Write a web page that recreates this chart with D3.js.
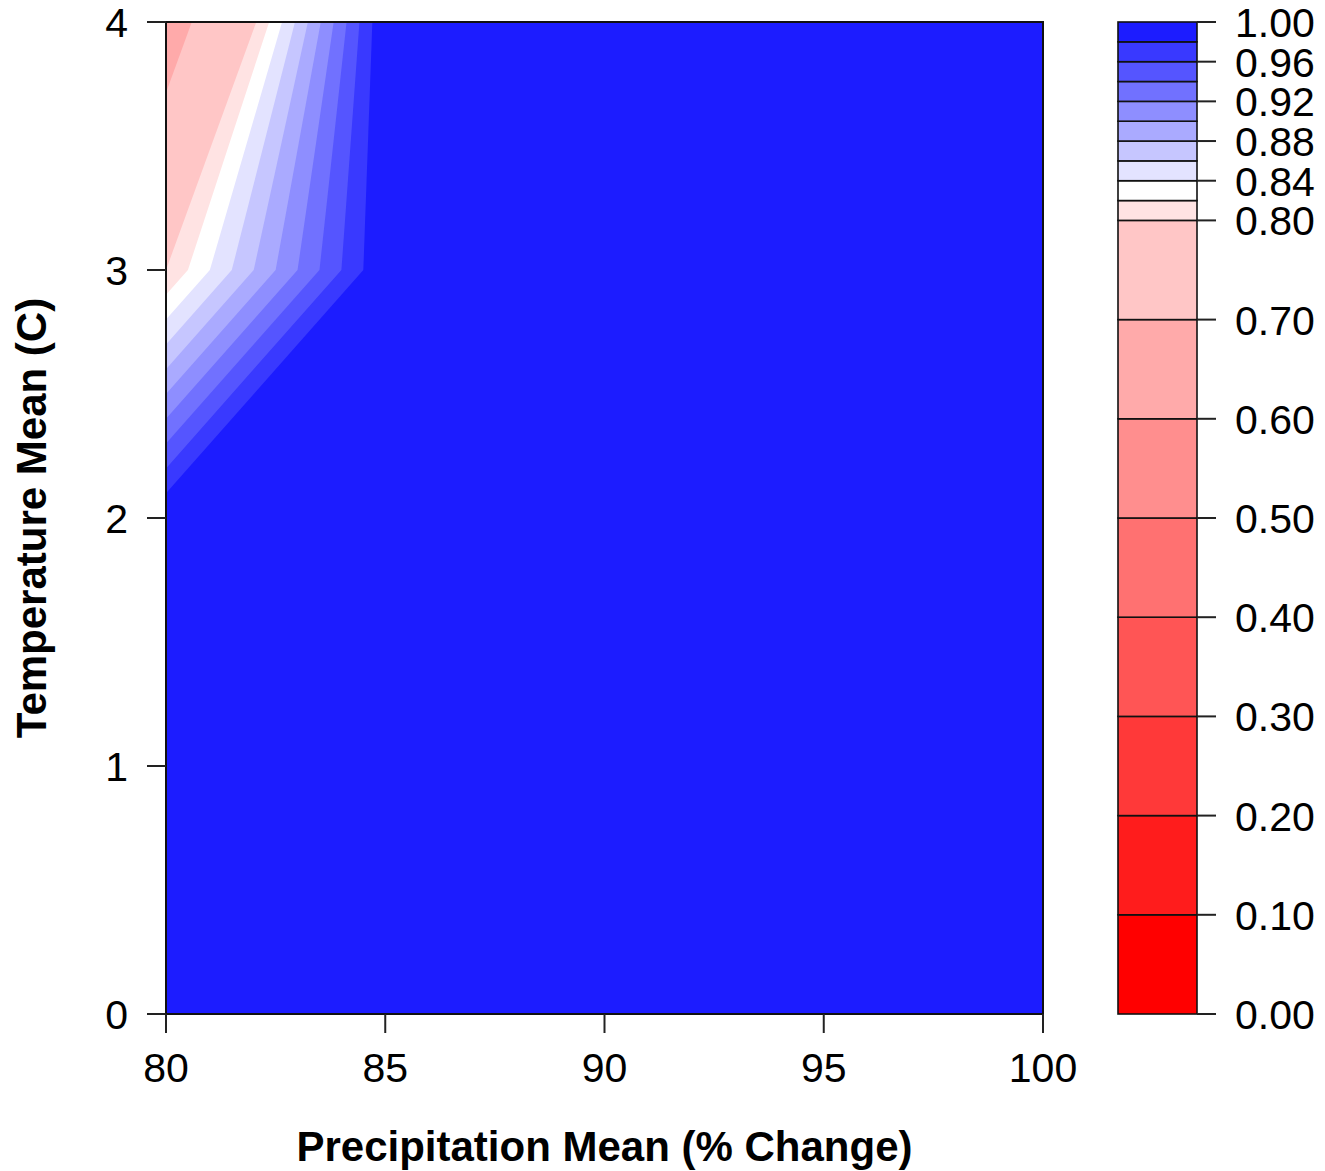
<!DOCTYPE html>
<meta charset="utf-8">
<script src="https://cdn.jsdelivr.net/npm/d3@7"></script>
<style>
  body { margin: 0; background: #fff; }
  text { font-family: "Liberation Sans", Arial, sans-serif; fill: #000; }
</style>
<div id="chart"></div>
<script>
// grid the surface was computed on
var precipitation = [80, 85, 90, 95, 100];
var temperature = [0, 1, 2, 3, 4];
// one row per temperature, one column per precipitation value
var zValues = [
  [1.00, 1, 1, 1, 1],
  [1.00, 1, 1, 1, 1],
  [1.00, 1, 1, 1, 1],
  [0.80, 1, 1, 1, 1],
  [0.66, 1, 1, 1, 1]
];
// filled contour levels
var levels = [0, 0.1, 0.2, 0.3, 0.4, 0.5, 0.6, 0.7, 0.8,
              0.82, 0.84, 0.86, 0.88, 0.9, 0.92, 0.94, 0.96, 0.98, 1.0];
var xTicks = [80, 85, 90, 95, 100];
var yTicks = [0, 1, 2, 3, 4];
var barTicks = [0, 0.1, 0.2, 0.3, 0.4, 0.5, 0.6, 0.7, 0.8, 0.84, 0.88, 0.92, 0.96, 1.0];

var W = 1325, H = 1171;
var plot = {left: 166, right: 1043, top: 22, bottom: 1014};
var bar = {left: 1118, right: 1197};

var svg = d3.select("#chart").append("svg")
  .attr("width", W)
  .attr("height", H);

var x = d3.scaleLinear().domain([80, 100]).range([plot.left, plot.right]);
var y = d3.scaleLinear().domain([0, 4]).range([plot.bottom, plot.top]);
var z = d3.scaleLinear().domain([0, 1]).range([plot.bottom, plot.top]);

// red - white - blue ramp, like colorRampPalette(c("red","white","blue"))(19)
var ramp = d3.piecewise(d3.interpolateRgb, ["#ff0000", "#ffffff", "#0000ff"]);
var nBands = levels.length - 1;
var colors = d3.range(nBands).map(function(i) { return ramp(i / nBands); });

// contours
var nx = precipitation.length, ny = temperature.length;
var flat = [];
zValues.forEach(function(row) { row.forEach(function(v) { flat.push(v); }); });
var dxStep = precipitation[1] - precipitation[0];
var dyStep = temperature[1] - temperature[0];

var contours = d3.contours()
  .size([nx, ny])
  .thresholds(levels.slice(0, -1))(flat);

// contour grid coords -> data -> pixels (samples sit at cell centres)
var proj = d3.geoTransform({
  point: function(cx, cy) {
    this.stream.point(
      x(precipitation[0] + (cx - 0.5) * dxStep),
      y(temperature[0] + (cy - 0.5) * dyStep));
  }
});
var path = d3.geoPath(proj);

svg.append("clipPath").attr("id", "clip")
  .append("rect")
  .attr("x", plot.left).attr("y", plot.top)
  .attr("width", plot.right - plot.left)
  .attr("height", plot.bottom - plot.top);

svg.append("g")
  .attr("clip-path", "url(#clip)")
  .selectAll("path")
  .data(contours)
  .enter().append("path")
  .attr("d", path)
  .attr("fill", function(d, i) { return colors[i]; })
  .attr("stroke", "none");

// box
svg.append("rect")
  .attr("x", plot.left).attr("y", plot.top)
  .attr("width", plot.right - plot.left)
  .attr("height", plot.bottom - plot.top)
  .attr("fill", "none")
  .attr("stroke", "#111")
  .attr("stroke-width", 2);

// x axis
var gx = svg.append("g");
gx.selectAll("line").data(xTicks).enter().append("line")
  .attr("x1", function(d) { return x(d); }).attr("x2", function(d) { return x(d); })
  .attr("y1", plot.bottom).attr("y2", plot.bottom + 19)
  .attr("stroke", "#222").attr("stroke-width", 2);
gx.selectAll("text").data(xTicks).enter().append("text")
  .attr("x", function(d) { return x(d); })
  .attr("y", 1082)
  .attr("text-anchor", "middle")
  .attr("font-size", 41)
  .text(function(d) { return d; });

// y axis
var gy = svg.append("g");
gy.selectAll("line").data(yTicks).enter().append("line")
  .attr("x1", plot.left - 19).attr("x2", plot.left)
  .attr("y1", function(d) { return y(d); }).attr("y2", function(d) { return y(d); })
  .attr("stroke", "#222").attr("stroke-width", 2);
gy.selectAll("text").data(yTicks).enter().append("text")
  .attr("x", 128)
  .attr("y", function(d) { return y(d) + 15; })
  .attr("text-anchor", "end")
  .attr("font-size", 41)
  .text(function(d) { return d; });

// axis titles
svg.append("text")
  .attr("x", (plot.left + plot.right) / 2)
  .attr("y", 1161)
  .attr("text-anchor", "middle")
  .attr("font-size", 42)
  .attr("font-weight", "bold")
  .text("Precipitation Mean (% Change)");

svg.append("text")
  .attr("transform", "translate(46," + (plot.top + plot.bottom) / 2 + ") rotate(-90)")
  .attr("text-anchor", "middle")
  .attr("font-size", 42)
  .attr("font-weight", "bold")
  .text("Temperature Mean (C)");

// colour key
var bands = d3.range(nBands).map(function(i) {
  return {lo: levels[i], hi: levels[i + 1], col: colors[i]};
});
svg.append("g").selectAll("rect").data(bands).enter().append("rect")
  .attr("x", bar.left)
  .attr("y", function(d) { return z(d.hi); })
  .attr("width", bar.right - bar.left)
  .attr("height", function(d) { return z(d.lo) - z(d.hi); })
  .attr("fill", function(d) { return d.col; })
  .attr("stroke", "#111")
  .attr("stroke-width", 1.6);

var gk = svg.append("g");
gk.selectAll("line").data(barTicks).enter().append("line")
  .attr("x1", bar.right).attr("x2", bar.right + 19)
  .attr("y1", function(d) { return z(d); }).attr("y2", function(d) { return z(d); })
  .attr("stroke", "#222").attr("stroke-width", 2);
gk.selectAll("text").data(barTicks).enter().append("text")
  .attr("x", 1235)
  .attr("y", function(d) { return z(d) + 15; })
  .attr("font-size", 41)
  .text(function(d) { return d.toFixed(2); });
</script>
